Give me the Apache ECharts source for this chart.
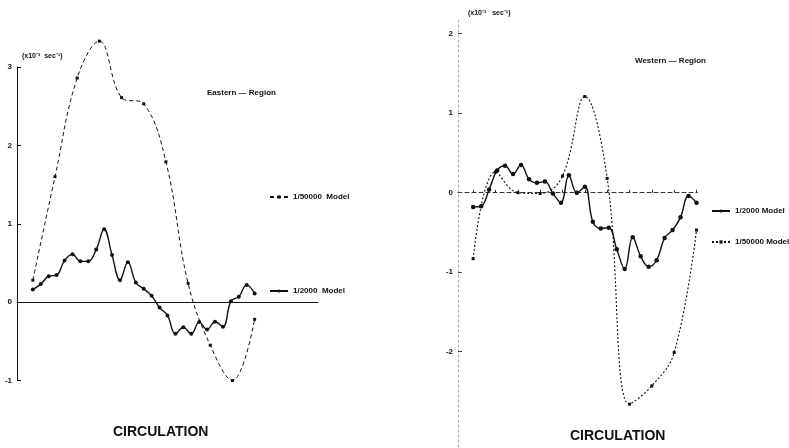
<!DOCTYPE html>
<html><head><meta charset="utf-8">
<script src="https://cdn.jsdelivr.net/npm/echarts@6/dist/echarts.min.js"></script>
<style>html,body{margin:0;padding:0;background:#fff}#c{width:789px;height:448px}</style>
</head><body><div id="c"></div>
<script>
// Sample steps: fine model every step, coarse model every 2.8 steps
const fineSteps = [0,1,2,3,4,5,6,7,8,9,10,11,12,13,14,15,16,17,18,19,20,21,22,23,24,25,26,27,28];
const coarseSteps = [0,2.8,5.6,8.4,11.2,14,16.8,19.6,22.4,25.2,28];

// Circulation (x10^-3 sec^-1)
const eastFine = [0.16,0.23,0.33,0.345,0.53,0.61,0.52,0.52,0.67,0.93,0.60,0.28,0.51,0.25,0.17,0.08,-0.07,-0.17,-0.405,-0.32,-0.405,-0.255,-0.35,-0.25,-0.315,0.01,0.07,0.22,0.11];
const eastCoarse = [0.28,1.60,2.86,3.33,2.61,2.53,1.79,0.24,-0.55,-1.00,-0.22];
const westFine = [-0.18,-0.17,0.04,0.28,0.34,0.235,0.35,0.17,0.125,0.14,-0.01,-0.125,0.22,0.0,0.075,-0.365,-0.45,-0.44,-0.71,-0.96,-0.56,-0.80,-0.93,-0.85,-0.57,-0.47,-0.31,-0.04,-0.125];
const westCoarse = [-0.83,0.26,0.0,-0.01,0.21,1.21,0.18,-2.66,-2.43,-2.01,-0.47];

const eastTicks = [-1,0,1,2,3];
const westTicks = [-2,-1,0,1,2];
const westStepTicks = [0,2.8,5.6,8.4,11.2,14,16.8,19.6,22.4,25.2,28];

const INK = '#111';
const FONT = 'Liberation Sans';
const pair = (xs, ys) => xs.map((x, i) => [x, ys[i]]);

const chart = echarts.init(document.getElementById('c'), null, {renderer: 'canvas'});

const legendBase = {
  orient: 'vertical', padding: 0, itemWidth: 18, itemHeight: 4, itemGap: 4,
  selectedMode: false,
  formatter: n => n.split('|')[1],
  textStyle: {fontFamily: FONT, fontWeight: 'bold', fontSize: 8, color: INK}
};

const labelStyle = {fontFamily: FONT, fontWeight: 'bold', fontSize: 8, color: INK};

chart.setOption({
  animation: false,
  backgroundColor: '#fff',
  grid: [
    {left: 17, top: 67, width: 301, height: 313.5, outerBoundsMode: 'none'},
    {left: 458, top: 19.4, width: 239.3, height: 427.7, outerBoundsMode: 'none'}
  ],
  xAxis: [
    {type: 'value', gridIndex: 0, min: -2, max: 36,
     axisLine: {onZero: true, lineStyle: {color: INK, width: 1}},
     axisTick: {show: false}, axisLabel: {show: false}, splitLine: {show: false}},
    {type: 'value', gridIndex: 1, min: -1.9, max: 28.1,
     axisLine: {onZero: true, lineStyle: {color: '#333', width: 1, type: [4, 3]}},
     axisTick: {show: true, inside: true, length: 3, customValues: westStepTicks, lineStyle: {color: '#333'}},
     axisLabel: {show: false}, splitLine: {show: false}}
  ],
  yAxis: [
    {type: 'value', gridIndex: 0, min: -1, max: 3, interval: 1,
     axisLine: {show: true, onZero: false, lineStyle: {color: INK, width: 1}},
     axisTick: {show: true, inside: true, length: 4, customValues: eastTicks, lineStyle: {color: INK}},
     axisLabel: Object.assign({margin: 5, customValues: eastTicks}, labelStyle),
     splitLine: {show: false}},
    {type: 'value', gridIndex: 1, min: -3.2, max: 2.18,
     axisLine: {show: true, onZero: false, lineStyle: {color: '#aaa', width: 1, type: [2, 3]}},
     axisTick: {show: true, inside: true, length: 4, customValues: westTicks, lineStyle: {color: '#444'}},
     axisLabel: Object.assign({margin: 5, customValues: westTicks}, labelStyle),
     splitLine: {show: false}}
  ],
  legend: [
    Object.assign({data: ['E|1/50000  Model'], left: 269, top: 193}, legendBase),
    Object.assign({data: ['E|1/2000  Model'], left: 269, top: 287}, legendBase),
    Object.assign({data: ['W|1/2000 Model'], left: 711, top: 207, itemWidth: 16}, legendBase),
    Object.assign({data: ['W|1/50000 Model'], left: 711, top: 238, itemWidth: 18}, legendBase)
  ],
  series: [
    {name: 'E|1/50000  Model', type: 'line', xAxisIndex: 0, yAxisIndex: 0,
     data: pair(coarseSteps, eastCoarse), smooth: 0.4, clip: false,
     symbol: 'rect', symbolSize: 3,
     lineStyle: {color: INK, width: 1, type: [4, 3]}, itemStyle: {color: INK}},
    {name: 'E|1/2000  Model', type: 'line', xAxisIndex: 0, yAxisIndex: 0,
     data: pair(fineSteps, eastFine), smooth: 0.4, clip: false,
     symbol: 'circle', symbolSize: 4,
     lineStyle: {color: INK, width: 1.4}, itemStyle: {color: INK}},
    {name: 'W|1/2000 Model', type: 'line', xAxisIndex: 1, yAxisIndex: 1,
     data: pair(fineSteps, westFine), smooth: 0.4, clip: false,
     symbol: 'circle', symbolSize: 4.5,
     lineStyle: {color: INK, width: 1.4}, itemStyle: {color: INK}},
    {name: 'W|1/50000 Model', type: 'line', xAxisIndex: 1, yAxisIndex: 1,
     data: pair(coarseSteps, westCoarse), smooth: 0.4, clip: false,
     symbol: 'rect', symbolSize: 3,
     lineStyle: {color: INK, width: 1.1, type: [2, 2]}, itemStyle: {color: INK}}
  ],
  graphic: [
    {type: 'text', left: 22, top: 53,
     style: {text: '(x10\u207B\u00B3  sec\u207B\u00B9)', font: 'bold 7px ' + FONT, fill: INK}},
    {type: 'text', left: 468, top: 10,
     style: {text: '(x10\u207B\u00B3   sec\u207B\u00B9)', font: 'bold 7px ' + FONT, fill: INK}},
    {type: 'text', left: 207, top: 89,
     style: {text: 'Eastern \u2014 Region', font: 'bold 8px ' + FONT, fill: INK}},
    {type: 'text', left: 635, top: 57,
     style: {text: 'Western \u2014 Region', font: 'bold 8px ' + FONT, fill: INK}},
    {type: 'text', left: 113, top: 425,
     style: {text: 'CIRCULATION', font: 'bold 14px ' + FONT, fill: INK}},
    {type: 'text', left: 570, top: 429,
     style: {text: 'CIRCULATION', font: 'bold 14px ' + FONT, fill: INK}}
  ]
});
</script>
</body></html>
